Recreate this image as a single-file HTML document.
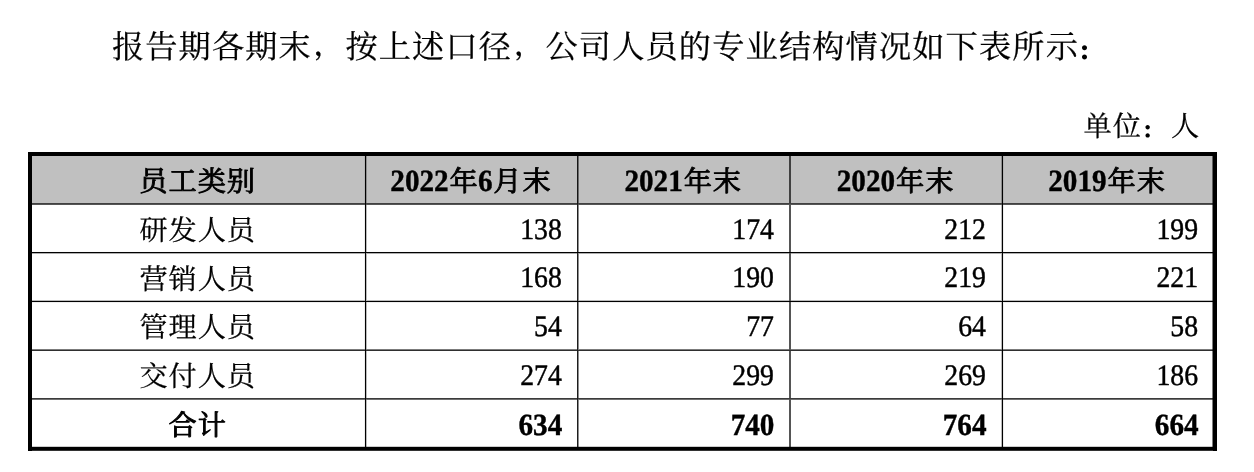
<!DOCTYPE html>
<html lang="zh-CN"><head><meta charset="utf-8"><title>专业结构</title>
<style>
html,body{margin:0;padding:0;background:#fff;}
body{width:1254px;height:472px;overflow:hidden;position:relative;font-family:"Liberation Serif","Noto Serif CJK SC",serif;color:#000;}
svg{position:absolute;left:0;top:0;display:block}
text{font-family:"Liberation Serif","Noto Serif CJK SC",serif;fill:#000;text-rendering:geometricPrecision;stroke:#000;stroke-width:0.25px}
.p{font-size:32.2px;letter-spacing:1.155px}
.u{font-size:28.2px;letter-spacing:0.97px}
.c{font-size:28.2px;letter-spacing:0.97px;text-anchor:middle}
.n{font-size:29.7px;text-anchor:end;stroke-width:0.45px}
.nb{font-size:30.8px;text-anchor:end;font-weight:bold;stroke-width:0.4px}
.hd{font-size:30.8px;font-weight:bold;stroke-width:0.4px}
.hk{font-size:28.2px;letter-spacing:0.97px;stroke-width:0.95px;stroke-linejoin:round}
.cm{font-size:24px;font-weight:700;stroke-width:0.3px;letter-spacing:0}
.q{font-weight:900;stroke-width:0;letter-spacing:0}
.k{stroke-width:0.95px;stroke-linejoin:round}
.d{font-weight:bold;stroke-width:0}
</style></head><body>
<svg width="1254" height="472" viewBox="0 0 1254 472">
<rect x="30" y="154" width="1185" height="50" fill="#c0c0c0"/>
<rect x="30" y="203" width="334" height="1" fill="#000" fill-opacity="0.667"/>
<rect x="367" y="203" width="210" height="1" fill="#000" fill-opacity="0.667"/>
<rect x="579" y="203" width="210" height="1" fill="#000" fill-opacity="0.667"/>
<rect x="791" y="203" width="210" height="1" fill="#000" fill-opacity="0.667"/>
<rect x="1004" y="203" width="211" height="1" fill="#000" fill-opacity="0.667"/>
<rect x="30" y="204" width="334" height="1" fill="#000" fill-opacity="0.667"/>
<rect x="367" y="204" width="210" height="1" fill="#000" fill-opacity="0.667"/>
<rect x="579" y="204" width="210" height="1" fill="#000" fill-opacity="0.667"/>
<rect x="791" y="204" width="210" height="1" fill="#000" fill-opacity="0.667"/>
<rect x="1004" y="204" width="211" height="1" fill="#000" fill-opacity="0.667"/>
<rect x="30" y="251" width="334" height="1" fill="#000" fill-opacity="0.017"/>
<rect x="367" y="251" width="210" height="1" fill="#000" fill-opacity="0.017"/>
<rect x="579" y="251" width="210" height="1" fill="#000" fill-opacity="0.017"/>
<rect x="791" y="251" width="210" height="1" fill="#000" fill-opacity="0.017"/>
<rect x="1004" y="251" width="211" height="1" fill="#000" fill-opacity="0.017"/>
<rect x="30" y="252" width="334" height="1" fill="#000" fill-opacity="1"/>
<rect x="367" y="252" width="210" height="1" fill="#000" fill-opacity="1"/>
<rect x="579" y="252" width="210" height="1" fill="#000" fill-opacity="1"/>
<rect x="791" y="252" width="210" height="1" fill="#000" fill-opacity="1"/>
<rect x="1004" y="252" width="211" height="1" fill="#000" fill-opacity="1"/>
<rect x="30" y="253" width="334" height="1" fill="#000" fill-opacity="0.317"/>
<rect x="367" y="253" width="210" height="1" fill="#000" fill-opacity="0.317"/>
<rect x="579" y="253" width="210" height="1" fill="#000" fill-opacity="0.317"/>
<rect x="791" y="253" width="210" height="1" fill="#000" fill-opacity="0.317"/>
<rect x="1004" y="253" width="211" height="1" fill="#000" fill-opacity="0.317"/>
<rect x="30" y="300" width="334" height="1" fill="#000" fill-opacity="0.267"/>
<rect x="367" y="300" width="210" height="1" fill="#000" fill-opacity="0.267"/>
<rect x="579" y="300" width="210" height="1" fill="#000" fill-opacity="0.267"/>
<rect x="791" y="300" width="210" height="1" fill="#000" fill-opacity="0.267"/>
<rect x="1004" y="300" width="211" height="1" fill="#000" fill-opacity="0.267"/>
<rect x="30" y="301" width="334" height="1" fill="#000" fill-opacity="1"/>
<rect x="367" y="301" width="210" height="1" fill="#000" fill-opacity="1"/>
<rect x="579" y="301" width="210" height="1" fill="#000" fill-opacity="1"/>
<rect x="791" y="301" width="210" height="1" fill="#000" fill-opacity="1"/>
<rect x="1004" y="301" width="211" height="1" fill="#000" fill-opacity="1"/>
<rect x="30" y="302" width="334" height="1" fill="#000" fill-opacity="0.066"/>
<rect x="367" y="302" width="210" height="1" fill="#000" fill-opacity="0.066"/>
<rect x="579" y="302" width="210" height="1" fill="#000" fill-opacity="0.066"/>
<rect x="791" y="302" width="210" height="1" fill="#000" fill-opacity="0.066"/>
<rect x="1004" y="302" width="211" height="1" fill="#000" fill-opacity="0.066"/>
<rect x="30" y="349" width="334" height="1" fill="#000" fill-opacity="0.517"/>
<rect x="367" y="349" width="210" height="1" fill="#000" fill-opacity="0.517"/>
<rect x="579" y="349" width="210" height="1" fill="#000" fill-opacity="0.517"/>
<rect x="791" y="349" width="210" height="1" fill="#000" fill-opacity="0.517"/>
<rect x="1004" y="349" width="211" height="1" fill="#000" fill-opacity="0.517"/>
<rect x="30" y="350" width="334" height="1" fill="#000" fill-opacity="0.816"/>
<rect x="367" y="350" width="210" height="1" fill="#000" fill-opacity="0.816"/>
<rect x="579" y="350" width="210" height="1" fill="#000" fill-opacity="0.816"/>
<rect x="791" y="350" width="210" height="1" fill="#000" fill-opacity="0.816"/>
<rect x="1004" y="350" width="211" height="1" fill="#000" fill-opacity="0.816"/>
<rect x="30" y="398" width="334" height="1" fill="#000" fill-opacity="0.767"/>
<rect x="367" y="398" width="210" height="1" fill="#000" fill-opacity="0.767"/>
<rect x="579" y="398" width="210" height="1" fill="#000" fill-opacity="0.767"/>
<rect x="791" y="398" width="210" height="1" fill="#000" fill-opacity="0.767"/>
<rect x="1004" y="398" width="211" height="1" fill="#000" fill-opacity="0.767"/>
<rect x="30" y="399" width="334" height="1" fill="#000" fill-opacity="0.566"/>
<rect x="367" y="399" width="210" height="1" fill="#000" fill-opacity="0.566"/>
<rect x="579" y="399" width="210" height="1" fill="#000" fill-opacity="0.566"/>
<rect x="791" y="399" width="210" height="1" fill="#000" fill-opacity="0.566"/>
<rect x="1004" y="399" width="211" height="1" fill="#000" fill-opacity="0.566"/>
<rect x="364" y="154" width="1" height="49" fill="#000" fill-opacity="0.066"/>
<rect x="364" y="205" width="1" height="46" fill="#000" fill-opacity="0.066"/>
<rect x="364" y="254" width="1" height="46" fill="#000" fill-opacity="0.066"/>
<rect x="364" y="303" width="1" height="46" fill="#000" fill-opacity="0.066"/>
<rect x="364" y="351" width="1" height="47" fill="#000" fill-opacity="0.066"/>
<rect x="364" y="400" width="1" height="49" fill="#000" fill-opacity="0.066"/>
<rect x="365" y="154" width="1" height="49" fill="#000" fill-opacity="1"/>
<rect x="365" y="205" width="1" height="46" fill="#000" fill-opacity="1"/>
<rect x="365" y="254" width="1" height="46" fill="#000" fill-opacity="1"/>
<rect x="365" y="303" width="1" height="46" fill="#000" fill-opacity="1"/>
<rect x="365" y="351" width="1" height="47" fill="#000" fill-opacity="1"/>
<rect x="365" y="400" width="1" height="49" fill="#000" fill-opacity="1"/>
<rect x="366" y="154" width="1" height="49" fill="#000" fill-opacity="0.267"/>
<rect x="366" y="205" width="1" height="46" fill="#000" fill-opacity="0.267"/>
<rect x="366" y="254" width="1" height="46" fill="#000" fill-opacity="0.267"/>
<rect x="366" y="303" width="1" height="46" fill="#000" fill-opacity="0.267"/>
<rect x="366" y="351" width="1" height="47" fill="#000" fill-opacity="0.267"/>
<rect x="366" y="400" width="1" height="49" fill="#000" fill-opacity="0.267"/>
<rect x="577" y="154" width="1" height="49" fill="#000" fill-opacity="0.887"/>
<rect x="577" y="205" width="1" height="46" fill="#000" fill-opacity="0.887"/>
<rect x="577" y="254" width="1" height="46" fill="#000" fill-opacity="0.887"/>
<rect x="577" y="303" width="1" height="46" fill="#000" fill-opacity="0.887"/>
<rect x="577" y="351" width="1" height="47" fill="#000" fill-opacity="0.887"/>
<rect x="577" y="400" width="1" height="49" fill="#000" fill-opacity="0.887"/>
<rect x="578" y="154" width="1" height="49" fill="#000" fill-opacity="0.447"/>
<rect x="578" y="205" width="1" height="46" fill="#000" fill-opacity="0.447"/>
<rect x="578" y="254" width="1" height="46" fill="#000" fill-opacity="0.447"/>
<rect x="578" y="303" width="1" height="46" fill="#000" fill-opacity="0.447"/>
<rect x="578" y="351" width="1" height="47" fill="#000" fill-opacity="0.447"/>
<rect x="578" y="400" width="1" height="49" fill="#000" fill-opacity="0.447"/>
<rect x="789" y="154" width="1" height="49" fill="#000" fill-opacity="0.667"/>
<rect x="789" y="205" width="1" height="46" fill="#000" fill-opacity="0.667"/>
<rect x="789" y="254" width="1" height="46" fill="#000" fill-opacity="0.667"/>
<rect x="789" y="303" width="1" height="46" fill="#000" fill-opacity="0.667"/>
<rect x="789" y="351" width="1" height="47" fill="#000" fill-opacity="0.667"/>
<rect x="789" y="400" width="1" height="49" fill="#000" fill-opacity="0.667"/>
<rect x="790" y="154" width="1" height="49" fill="#000" fill-opacity="0.667"/>
<rect x="790" y="205" width="1" height="46" fill="#000" fill-opacity="0.667"/>
<rect x="790" y="254" width="1" height="46" fill="#000" fill-opacity="0.667"/>
<rect x="790" y="303" width="1" height="46" fill="#000" fill-opacity="0.667"/>
<rect x="790" y="351" width="1" height="47" fill="#000" fill-opacity="0.667"/>
<rect x="790" y="400" width="1" height="49" fill="#000" fill-opacity="0.667"/>
<rect x="1001" y="154" width="1" height="49" fill="#000" fill-opacity="0.267"/>
<rect x="1001" y="205" width="1" height="46" fill="#000" fill-opacity="0.267"/>
<rect x="1001" y="254" width="1" height="46" fill="#000" fill-opacity="0.267"/>
<rect x="1001" y="303" width="1" height="46" fill="#000" fill-opacity="0.267"/>
<rect x="1001" y="351" width="1" height="47" fill="#000" fill-opacity="0.267"/>
<rect x="1001" y="400" width="1" height="49" fill="#000" fill-opacity="0.267"/>
<rect x="1002" y="154" width="1" height="49" fill="#000" fill-opacity="1"/>
<rect x="1002" y="205" width="1" height="46" fill="#000" fill-opacity="1"/>
<rect x="1002" y="254" width="1" height="46" fill="#000" fill-opacity="1"/>
<rect x="1002" y="303" width="1" height="46" fill="#000" fill-opacity="1"/>
<rect x="1002" y="351" width="1" height="47" fill="#000" fill-opacity="1"/>
<rect x="1002" y="400" width="1" height="49" fill="#000" fill-opacity="1"/>
<rect x="1003" y="154" width="1" height="49" fill="#000" fill-opacity="0.067"/>
<rect x="1003" y="205" width="1" height="46" fill="#000" fill-opacity="0.067"/>
<rect x="1003" y="254" width="1" height="46" fill="#000" fill-opacity="0.067"/>
<rect x="1003" y="303" width="1" height="46" fill="#000" fill-opacity="0.067"/>
<rect x="1003" y="351" width="1" height="47" fill="#000" fill-opacity="0.067"/>
<rect x="1003" y="400" width="1" height="49" fill="#000" fill-opacity="0.067"/>
<rect x="364" y="203" width="1" height="1" fill="#000" fill-opacity="0.667"/>
<rect x="365" y="203" width="1" height="1" fill="#000" fill-opacity="1"/>
<rect x="366" y="203" width="1" height="1" fill="#000" fill-opacity="0.667"/>
<rect x="577" y="203" width="1" height="1" fill="#000" fill-opacity="0.887"/>
<rect x="578" y="203" width="1" height="1" fill="#000" fill-opacity="0.667"/>
<rect x="789" y="203" width="1" height="1" fill="#000" fill-opacity="0.667"/>
<rect x="790" y="203" width="1" height="1" fill="#000" fill-opacity="0.667"/>
<rect x="1001" y="203" width="1" height="1" fill="#000" fill-opacity="0.667"/>
<rect x="1002" y="203" width="1" height="1" fill="#000" fill-opacity="1"/>
<rect x="1003" y="203" width="1" height="1" fill="#000" fill-opacity="0.667"/>
<rect x="364" y="204" width="1" height="1" fill="#000" fill-opacity="0.667"/>
<rect x="365" y="204" width="1" height="1" fill="#000" fill-opacity="1"/>
<rect x="366" y="204" width="1" height="1" fill="#000" fill-opacity="0.667"/>
<rect x="577" y="204" width="1" height="1" fill="#000" fill-opacity="0.887"/>
<rect x="578" y="204" width="1" height="1" fill="#000" fill-opacity="0.667"/>
<rect x="789" y="204" width="1" height="1" fill="#000" fill-opacity="0.667"/>
<rect x="790" y="204" width="1" height="1" fill="#000" fill-opacity="0.667"/>
<rect x="1001" y="204" width="1" height="1" fill="#000" fill-opacity="0.667"/>
<rect x="1002" y="204" width="1" height="1" fill="#000" fill-opacity="1"/>
<rect x="1003" y="204" width="1" height="1" fill="#000" fill-opacity="0.667"/>
<rect x="364" y="251" width="1" height="1" fill="#000" fill-opacity="0.066"/>
<rect x="365" y="251" width="1" height="1" fill="#000" fill-opacity="1"/>
<rect x="366" y="251" width="1" height="1" fill="#000" fill-opacity="0.267"/>
<rect x="577" y="251" width="1" height="1" fill="#000" fill-opacity="0.887"/>
<rect x="578" y="251" width="1" height="1" fill="#000" fill-opacity="0.447"/>
<rect x="789" y="251" width="1" height="1" fill="#000" fill-opacity="0.667"/>
<rect x="790" y="251" width="1" height="1" fill="#000" fill-opacity="0.667"/>
<rect x="1001" y="251" width="1" height="1" fill="#000" fill-opacity="0.267"/>
<rect x="1002" y="251" width="1" height="1" fill="#000" fill-opacity="1"/>
<rect x="1003" y="251" width="1" height="1" fill="#000" fill-opacity="0.067"/>
<rect x="364" y="252" width="1" height="1" fill="#000" fill-opacity="1"/>
<rect x="365" y="252" width="1" height="1" fill="#000" fill-opacity="1"/>
<rect x="366" y="252" width="1" height="1" fill="#000" fill-opacity="1"/>
<rect x="577" y="252" width="1" height="1" fill="#000" fill-opacity="1"/>
<rect x="578" y="252" width="1" height="1" fill="#000" fill-opacity="1"/>
<rect x="789" y="252" width="1" height="1" fill="#000" fill-opacity="1"/>
<rect x="790" y="252" width="1" height="1" fill="#000" fill-opacity="1"/>
<rect x="1001" y="252" width="1" height="1" fill="#000" fill-opacity="1"/>
<rect x="1002" y="252" width="1" height="1" fill="#000" fill-opacity="1"/>
<rect x="1003" y="252" width="1" height="1" fill="#000" fill-opacity="1"/>
<rect x="364" y="253" width="1" height="1" fill="#000" fill-opacity="0.317"/>
<rect x="365" y="253" width="1" height="1" fill="#000" fill-opacity="1"/>
<rect x="366" y="253" width="1" height="1" fill="#000" fill-opacity="0.317"/>
<rect x="577" y="253" width="1" height="1" fill="#000" fill-opacity="0.887"/>
<rect x="578" y="253" width="1" height="1" fill="#000" fill-opacity="0.447"/>
<rect x="789" y="253" width="1" height="1" fill="#000" fill-opacity="0.667"/>
<rect x="790" y="253" width="1" height="1" fill="#000" fill-opacity="0.667"/>
<rect x="1001" y="253" width="1" height="1" fill="#000" fill-opacity="0.317"/>
<rect x="1002" y="253" width="1" height="1" fill="#000" fill-opacity="1"/>
<rect x="1003" y="253" width="1" height="1" fill="#000" fill-opacity="0.317"/>
<rect x="364" y="300" width="1" height="1" fill="#000" fill-opacity="0.267"/>
<rect x="365" y="300" width="1" height="1" fill="#000" fill-opacity="1"/>
<rect x="366" y="300" width="1" height="1" fill="#000" fill-opacity="0.267"/>
<rect x="577" y="300" width="1" height="1" fill="#000" fill-opacity="0.887"/>
<rect x="578" y="300" width="1" height="1" fill="#000" fill-opacity="0.447"/>
<rect x="789" y="300" width="1" height="1" fill="#000" fill-opacity="0.667"/>
<rect x="790" y="300" width="1" height="1" fill="#000" fill-opacity="0.667"/>
<rect x="1001" y="300" width="1" height="1" fill="#000" fill-opacity="0.267"/>
<rect x="1002" y="300" width="1" height="1" fill="#000" fill-opacity="1"/>
<rect x="1003" y="300" width="1" height="1" fill="#000" fill-opacity="0.267"/>
<rect x="364" y="301" width="1" height="1" fill="#000" fill-opacity="1"/>
<rect x="365" y="301" width="1" height="1" fill="#000" fill-opacity="1"/>
<rect x="366" y="301" width="1" height="1" fill="#000" fill-opacity="1"/>
<rect x="577" y="301" width="1" height="1" fill="#000" fill-opacity="1"/>
<rect x="578" y="301" width="1" height="1" fill="#000" fill-opacity="1"/>
<rect x="789" y="301" width="1" height="1" fill="#000" fill-opacity="1"/>
<rect x="790" y="301" width="1" height="1" fill="#000" fill-opacity="1"/>
<rect x="1001" y="301" width="1" height="1" fill="#000" fill-opacity="1"/>
<rect x="1002" y="301" width="1" height="1" fill="#000" fill-opacity="1"/>
<rect x="1003" y="301" width="1" height="1" fill="#000" fill-opacity="1"/>
<rect x="364" y="302" width="1" height="1" fill="#000" fill-opacity="0.066"/>
<rect x="365" y="302" width="1" height="1" fill="#000" fill-opacity="1"/>
<rect x="366" y="302" width="1" height="1" fill="#000" fill-opacity="0.267"/>
<rect x="577" y="302" width="1" height="1" fill="#000" fill-opacity="0.887"/>
<rect x="578" y="302" width="1" height="1" fill="#000" fill-opacity="0.447"/>
<rect x="789" y="302" width="1" height="1" fill="#000" fill-opacity="0.667"/>
<rect x="790" y="302" width="1" height="1" fill="#000" fill-opacity="0.667"/>
<rect x="1001" y="302" width="1" height="1" fill="#000" fill-opacity="0.267"/>
<rect x="1002" y="302" width="1" height="1" fill="#000" fill-opacity="1"/>
<rect x="1003" y="302" width="1" height="1" fill="#000" fill-opacity="0.067"/>
<rect x="364" y="349" width="1" height="1" fill="#000" fill-opacity="0.517"/>
<rect x="365" y="349" width="1" height="1" fill="#000" fill-opacity="1"/>
<rect x="366" y="349" width="1" height="1" fill="#000" fill-opacity="0.517"/>
<rect x="577" y="349" width="1" height="1" fill="#000" fill-opacity="0.887"/>
<rect x="578" y="349" width="1" height="1" fill="#000" fill-opacity="0.517"/>
<rect x="789" y="349" width="1" height="1" fill="#000" fill-opacity="0.667"/>
<rect x="790" y="349" width="1" height="1" fill="#000" fill-opacity="0.667"/>
<rect x="1001" y="349" width="1" height="1" fill="#000" fill-opacity="0.517"/>
<rect x="1002" y="349" width="1" height="1" fill="#000" fill-opacity="1"/>
<rect x="1003" y="349" width="1" height="1" fill="#000" fill-opacity="0.517"/>
<rect x="364" y="350" width="1" height="1" fill="#000" fill-opacity="0.816"/>
<rect x="365" y="350" width="1" height="1" fill="#000" fill-opacity="1"/>
<rect x="366" y="350" width="1" height="1" fill="#000" fill-opacity="0.816"/>
<rect x="577" y="350" width="1" height="1" fill="#000" fill-opacity="0.887"/>
<rect x="578" y="350" width="1" height="1" fill="#000" fill-opacity="0.816"/>
<rect x="789" y="350" width="1" height="1" fill="#000" fill-opacity="0.816"/>
<rect x="790" y="350" width="1" height="1" fill="#000" fill-opacity="0.816"/>
<rect x="1001" y="350" width="1" height="1" fill="#000" fill-opacity="0.816"/>
<rect x="1002" y="350" width="1" height="1" fill="#000" fill-opacity="1"/>
<rect x="1003" y="350" width="1" height="1" fill="#000" fill-opacity="0.816"/>
<rect x="364" y="398" width="1" height="1" fill="#000" fill-opacity="0.767"/>
<rect x="365" y="398" width="1" height="1" fill="#000" fill-opacity="1"/>
<rect x="366" y="398" width="1" height="1" fill="#000" fill-opacity="0.767"/>
<rect x="577" y="398" width="1" height="1" fill="#000" fill-opacity="0.887"/>
<rect x="578" y="398" width="1" height="1" fill="#000" fill-opacity="0.767"/>
<rect x="789" y="398" width="1" height="1" fill="#000" fill-opacity="0.767"/>
<rect x="790" y="398" width="1" height="1" fill="#000" fill-opacity="0.767"/>
<rect x="1001" y="398" width="1" height="1" fill="#000" fill-opacity="0.767"/>
<rect x="1002" y="398" width="1" height="1" fill="#000" fill-opacity="1"/>
<rect x="1003" y="398" width="1" height="1" fill="#000" fill-opacity="0.767"/>
<rect x="364" y="399" width="1" height="1" fill="#000" fill-opacity="0.566"/>
<rect x="365" y="399" width="1" height="1" fill="#000" fill-opacity="1"/>
<rect x="366" y="399" width="1" height="1" fill="#000" fill-opacity="0.566"/>
<rect x="577" y="399" width="1" height="1" fill="#000" fill-opacity="0.887"/>
<rect x="578" y="399" width="1" height="1" fill="#000" fill-opacity="0.566"/>
<rect x="789" y="399" width="1" height="1" fill="#000" fill-opacity="0.667"/>
<rect x="790" y="399" width="1" height="1" fill="#000" fill-opacity="0.667"/>
<rect x="1001" y="399" width="1" height="1" fill="#000" fill-opacity="0.566"/>
<rect x="1002" y="399" width="1" height="1" fill="#000" fill-opacity="1"/>
<rect x="1003" y="399" width="1" height="1" fill="#000" fill-opacity="0.566"/>
<rect x="28" y="152" width="1189" height="4" fill="#000"/>
<rect x="28" y="152" width="4" height="299" fill="#000"/>
<rect x="1213" y="152" width="4" height="299" fill="#000"/>
<rect x="1212" y="156" width="1" height="291" fill="#000" fill-opacity="0.5"/>
<rect x="28" y="447" width="1189" height="3" fill="#000"/>
<rect x="28" y="446" width="1189" height="1" fill="#000" fill-opacity="0.2"/>
<rect x="28" y="450" width="1189" height="1" fill="#000" fill-opacity="0.8"/>
<text class="p" x="111.9" y="57.6">报告期各期末<tspan class="cm" x="314.8" y="54.8">，</tspan><tspan x="345.38" y="57.6">按上述口径</tspan><tspan class="cm" x="515.2" y="54.8">，</tspan><tspan x="545.51" y="57.6">公司人员的专业结构情况如下表所示</tspan><tspan class="q" x="1077.6" y="59.8" font-size="24.5">：</tspan></text>
<text class="u" x="1083.5" y="136.3">单位<tspan class="q" x="1141.4" y="137.7" font-size="21.5">：</tspan><tspan x="1171" y="136.3">人</tspan></text>
<text><tspan class="hk" x="139.35" y="190.9">员工类别</tspan></text>
<text><tspan class="hd" x="390.37" y="191.1" textLength="58.34" lengthAdjust="spacingAndGlyphs">2022</tspan><tspan class="hk" x="449.60" y="190.9">年</tspan><tspan class="hd" x="477.88" y="191.1" textLength="14.59" lengthAdjust="spacingAndGlyphs">6</tspan><tspan class="hk" x="493.36" y="190.9">月末</tspan></text>
<text><tspan class="hd" x="624.45" y="191.1" textLength="58.34" lengthAdjust="spacingAndGlyphs">2021</tspan><tspan class="hk" x="683.68" y="190.9">年末</tspan></text>
<text><tspan class="hd" x="836.76" y="191.1" textLength="58.34" lengthAdjust="spacingAndGlyphs">2020</tspan><tspan class="hk" x="895.99" y="190.9">年末</tspan></text>
<text><tspan class="hd" x="1048.26" y="191.1" textLength="58.34" lengthAdjust="spacingAndGlyphs">2019</tspan><tspan class="hk" x="1107.49" y="190.9">年末</tspan></text>
<text class="c" x="197.7" y="240.35">研发人员</text>
<text class="n" transform="translate(561.8 238.8) scale(0.935 1)">138</text>
<text class="n" transform="translate(773.9 238.8) scale(0.935 1)">174</text>
<text class="n" transform="translate(986.0 238.8) scale(0.935 1)">212</text>
<text class="n" transform="translate(1198.1 238.8) scale(0.935 1)">199</text>
<text class="c" x="197.7" y="288.75">营销人员</text>
<text class="n" transform="translate(561.8 287.2) scale(0.935 1)">168</text>
<text class="n" transform="translate(773.9 287.2) scale(0.935 1)">190</text>
<text class="n" transform="translate(986.0 287.2) scale(0.935 1)">219</text>
<text class="n" transform="translate(1198.1 287.2) scale(0.935 1)">221</text>
<text class="c" x="197.7" y="337.35">管理人员</text>
<text class="n" transform="translate(561.8 335.8) scale(0.935 1)">54</text>
<text class="n" transform="translate(773.9 335.8) scale(0.935 1)">77</text>
<text class="n" transform="translate(986.0 335.8) scale(0.935 1)">64</text>
<text class="n" transform="translate(1198.1 335.8) scale(0.935 1)">58</text>
<text class="c" x="197.7" y="386.15">交付人员</text>
<text class="n" transform="translate(561.8 384.6) scale(0.935 1)">274</text>
<text class="n" transform="translate(773.9 384.6) scale(0.935 1)">299</text>
<text class="n" transform="translate(986.0 384.6) scale(0.935 1)">269</text>
<text class="n" transform="translate(1198.1 384.6) scale(0.935 1)">186</text>
<text><tspan class="hk" x="168.52" y="434.8">合计</tspan></text>
<text class="nb" transform="translate(562.3 434.8) scale(0.9471 1)">634</text>
<text class="nb" transform="translate(774.4 434.8) scale(0.9471 1)">740</text>
<text class="nb" transform="translate(986.5 434.8) scale(0.9471 1)">764</text>
<text class="nb" transform="translate(1198.6 434.8) scale(0.9471 1)">664</text>
</svg>
</body></html>
